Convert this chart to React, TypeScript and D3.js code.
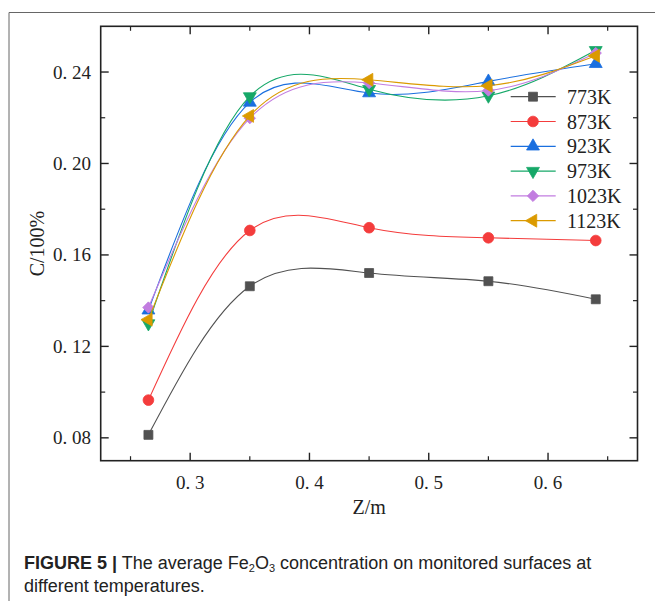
import React from 'react';
import * as d3 from 'd3';

// Z positions (m) and concentration readings for each temperature
const zValues = [0.265, 0.35, 0.45, 0.55, 0.64];
const c773 = [0.0813, 0.1463, 0.1521, 0.1485, 0.1406];
const c873 = [0.0965, 0.1707, 0.1719, 0.1675, 0.1663];
const c923 = [0.1358, 0.2267, 0.2308, 0.2359, 0.2436];
const c973 = [0.1300, 0.2293, 0.2325, 0.2296, 0.2495];
const c1023 = [0.1370, 0.2198, 0.2352, 0.2319, 0.2483];
const c1123 = [0.1317, 0.2208, 0.2366, 0.2340, 0.2471];

const seriesNames = ['773K', '873K', '923K', '973K', '1023K', '1123K'];
const seriesValues = [c773, c873, c923, c973, c1023, c1123];
const seriesColors = ['#515151', '#F43C3C', '#1A6FDF', '#16A868', '#C27DE0', '#DB9A00'];
const seriesMarkers = ['square', 'circle', 'up', 'down', 'diamond', 'left'];

const xTicks = [0.3, 0.4, 0.5, 0.6];
const yTicks = [0.08, 0.12, 0.16, 0.2, 0.24];
const yTickLabels = ['0. 08', '0. 12', '0. 16', '0. 20', '0. 24'];
const xTickLabels = ['0. 3', '0. 4', '0. 5', '0. 6'];

const W = 655;
const H = 601;
const left = 100.7;
const right = 637.5;
const top = 26.3;
const bottom = 460.7;

const x = d3.scaleLinear().domain([0.225, 0.675]).range([left, right]);
const y = d3.scaleLinear().domain([0.07, 0.26]).range([bottom, top]);

const serif = '"Liberation Serif", "DejaVu Serif", serif';
const sans = '"Liberation Sans", Arial, sans-serif';

function markerPath(kind: string) {
  if (kind === 'square') return d3.symbol(d3.symbolSquare, 80)()!;
  if (kind === 'circle') return d3.symbol(d3.symbolCircle, 90)()!;
  if (kind === 'diamond') return d3.symbol(d3.symbolSquare, 64)()!;
  return d3.symbol(d3.symbolTriangle, 72)()!;
}

function markerRotate(kind: string) {
  if (kind === 'diamond') return 45;
  if (kind === 'down') return 180;
  if (kind === 'left') return -90;
  return 0;
}

function Marker({ kind, color, cx, cy }: { kind: string; color: string; cx: number; cy: number }) {
  return (
    <path
      d={markerPath(kind)}
      transform={`translate(${cx},${cy}) rotate(${markerRotate(kind)})`}
      fill={color}
      stroke={color}
      strokeWidth={0.8}
    />
  );
}

export default function App() {
  const line = d3
    .line<number>()
    .x((_, i) => x(zValues[i]))
    .y((d) => y(d))
    .curve(d3.curveNatural);

  const xMinor = d3.range(0.25, 0.675, 0.1);
  const yMinor = d3.range(0.1, 0.26, 0.04);

  return (
    <svg width={W} height={H} style={{ position: 'absolute', left: 0, top: 0, background: '#fff' }}>
      {/* page frame */}
      <line x1={9} y1={12.5} x2={W} y2={12.5} stroke="#666" strokeWidth={1} />
      <line x1={9} y1={12.5} x2={9} y2={H} stroke="#666" strokeWidth={1} />

      {/* plot box */}
      <rect x={left} y={top} width={right - left} height={bottom - top} fill="none" stroke="#222" strokeWidth={1.6} />

      {/* ticks, all pointing inward */}
      {xTicks.map((t) => (
        <g key={'xt' + t}>
          <line x1={x(t)} x2={x(t)} y1={bottom} y2={bottom - 8} stroke="#222" strokeWidth={1.4} />
          <line x1={x(t)} x2={x(t)} y1={top} y2={top + 8} stroke="#222" strokeWidth={1.4} />
        </g>
      ))}
      {xMinor.map((t) => (
        <g key={'xm' + t}>
          <line x1={x(t)} x2={x(t)} y1={bottom} y2={bottom - 4.5} stroke="#222" strokeWidth={1.2} />
          <line x1={x(t)} x2={x(t)} y1={top} y2={top + 4.5} stroke="#222" strokeWidth={1.2} />
        </g>
      ))}
      {yTicks.map((t) => (
        <g key={'yt' + t}>
          <line x1={left} x2={left + 8} y1={y(t)} y2={y(t)} stroke="#222" strokeWidth={1.4} />
          <line x1={right} x2={right - 8} y1={y(t)} y2={y(t)} stroke="#222" strokeWidth={1.4} />
        </g>
      ))}
      {yMinor.map((t) => (
        <g key={'ym' + t}>
          <line x1={left} x2={left + 4.5} y1={y(t)} y2={y(t)} stroke="#222" strokeWidth={1.2} />
          <line x1={right} x2={right - 4.5} y1={y(t)} y2={y(t)} stroke="#222" strokeWidth={1.2} />
        </g>
      ))}

      {/* tick labels */}
      {xTicks.map((t, i) => (
        <text key={'xl' + t} x={x(t)} y={489} textAnchor="middle" fontFamily={serif} fontSize={19} fill="#222">
          {xTickLabels[i]}
        </text>
      ))}
      {yTicks.map((t, i) => (
        <text key={'yl' + t} x={91} y={y(t) + 6.5} textAnchor="end" fontFamily={serif} fontSize={19} fill="#222">
          {yTickLabels[i]}
        </text>
      ))}

      {/* axis titles */}
      <text x={(left + right) / 2} y={514} textAnchor="middle" fontFamily={serif} fontSize={20} fill="#222">
        Z/m
      </text>
      <text
        transform={`translate(44,${(top + bottom) / 2}) rotate(-90)`}
        textAnchor="middle"
        fontFamily={serif}
        fontSize={20}
        fill="#222"
      >
        C/100%
      </text>

      {/* series */}
      {seriesValues.map((vals, s) => (
        <g key={seriesNames[s]}>
          <path d={line(vals)!} fill="none" stroke={seriesColors[s]} strokeWidth={1.1} />
          {vals.map((v, i) => (
            <Marker key={i} kind={seriesMarkers[s]} color={seriesColors[s]} cx={x(zValues[i])} cy={y(v)} />
          ))}
        </g>
      ))}

      {/* legend */}
      {seriesNames.map((name, s) => {
        const ly = 96.7 + s * 24.8;
        return (
          <g key={'lg' + name}>
            <line x1={510.7} x2={555.7} y1={ly} y2={ly} stroke={seriesColors[s]} strokeWidth={1.2} />
            <Marker kind={seriesMarkers[s]} color={seriesColors[s]} cx={533} cy={ly} />
            <text x={567} y={ly + 7} fontFamily={serif} fontSize={20} fill="#222">
              {name}
            </text>
          </g>
        );
      })}

      {/* caption */}
      <text x={24} y={569} fontFamily={sans} fontSize={18} fill="#222">
        <tspan fontWeight="bold">FIGURE 5 |</tspan>
        <tspan> The average Fe</tspan>
        <tspan fontSize={11} baselineShift="-25%">2</tspan>
        <tspan>O</tspan>
        <tspan fontSize={11} baselineShift="-25%">3</tspan>
        <tspan> concentration on monitored surfaces at</tspan>
      </text>
      <text x={24} y={592} fontFamily={sans} fontSize={18} fill="#222">
        different temperatures.
      </text>
    </svg>
  );
}
